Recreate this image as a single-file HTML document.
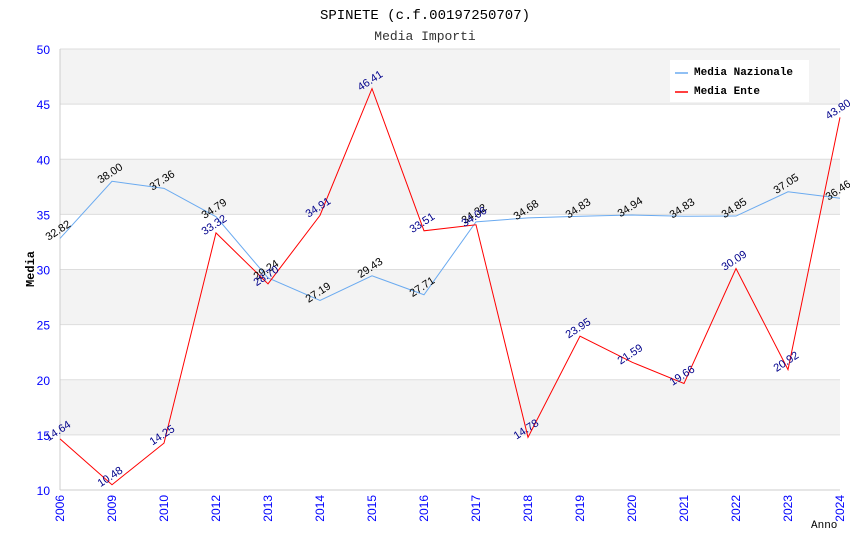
<!DOCTYPE html>
<html><head><meta charset="utf-8"><style>
body{margin:0;background:#fff}
svg text{font-family:"Liberation Sans",sans-serif}
.mono{font-family:"Liberation Mono",monospace}
</style></head><body>
<svg id="c" width="850" height="550">
<text class="mono" x="425" y="19" text-anchor="middle" font-size="14" fill="#000">SPINETE (c.f.00197250707)</text>
<text class="mono" x="425" y="40" text-anchor="middle" font-size="13" fill="#333">Media Importi</text>
<g id="bands"></g><g id="yax"></g><g id="xax"></g><g id="series"></g><g id="labels"></g>
<text class="mono" x="34" y="269" font-size="12" font-weight="bold" transform="rotate(-90 34 269)" text-anchor="middle">Media</text>
<text class="mono" x="811" y="528" font-size="11">Anno</text>
<g>
<rect x="670" y="60" width="139" height="42" fill="#fff"/>
<line x1="675" y1="73" x2="688" y2="73" stroke="#6aaaf0" stroke-width="1.5"/>
<text class="mono" x="694" y="75" font-size="11" font-weight="bold">Media Nazionale</text>
<line x1="675" y1="92" x2="688" y2="92" stroke="#f00" stroke-width="1.5"/>
<text class="mono" x="694" y="94" font-size="11" font-weight="bold">Media Ente</text>
</g>
</svg>
<script>
const years=["2006","2009","2010","2012","2013","2014","2015","2016","2017","2018","2019","2020","2021","2022","2023","2024"];
const nazionale=[32.82,38.00,37.36,34.79,29.24,27.19,29.43,27.71,34.32,34.68,34.83,34.94,34.83,34.85,37.05,36.46];
const ente=[14.64,10.48,14.25,33.32,28.70,34.91,46.41,33.51,34.06,14.78,23.95,21.59,19.66,30.09,20.92,43.80];
const yTicks=[10,15,20,25,30,35,40,45,50];
const NS="http://www.w3.org/2000/svg";
const L=60,R=840,T=49,B=490,ymin=10,ymax=50;
const x=i=>L+i*(R-L)/(years.length-1);
const y=v=>B-(v-ymin)*(B-T)/(ymax-ymin);
function mk(tag,attrs,parent){const e=document.createElementNS(NS,tag);for(const k in attrs)e.setAttribute(k,attrs[k]);document.getElementById(parent).appendChild(e);return e;}
for(let i=0;i<yTicks.length-1;i++){
 const r=mk('rect',{x:L,y:y(yTicks[i+1]),width:R-L,height:y(yTicks[i])-y(yTicks[i+1]),fill:(i%2==1)?'#f3f3f3':'#fff'},'bands');
 
 
}
yTicks.forEach(t=>{
 const l=mk('line',{x1:L,x2:R,y1:y(t),y2:y(t),stroke:'#ddd'},'yax');
 
 
 const tx=mk('text',{x:L-10,y:y(t)+5,'text-anchor':'end','font-size':12,fill:'#00f'},'yax');
 tx.textContent=t;
 
 
});
mk('line',{x1:L,x2:L,y1:T,y2:B,stroke:'#ccc'},'yax');
mk('line',{x1:L,x2:R,y1:B,y2:B,stroke:'#ccc'},'yax');
years.forEach((yr,i)=>{
 const tx=mk('text',{x:x(i)+4,y:B+5,'text-anchor':'end','font-size':12,fill:'#00f',transform:`rotate(-90 ${x(i)+4} ${B+5})`},'xax');
 tx.textContent=yr;
 
 
});
function series(vals,color,name,lc){
 const p=mk('polyline',{points:vals.map((v,i)=>x(i)+','+y(v)).join(' '),fill:'none',stroke:color,'stroke-width':1},'series');
 
 
 vals.forEach((v,i)=>{
  const px=x(i),py=y(v)-5;
  const t=mk('text',{x:px,y:py,'text-anchor':'middle','font-size':11,fill:lc,transform:`rotate(-33 ${px} ${py})`},'labels');
  t.textContent=v.toFixed(2);
  
  
 });
}
series(nazionale,'#6aaaf0','line-nazionale','#000');
series(ente,'#f00','line-ente','#00008b');
</script>
</body></html>
